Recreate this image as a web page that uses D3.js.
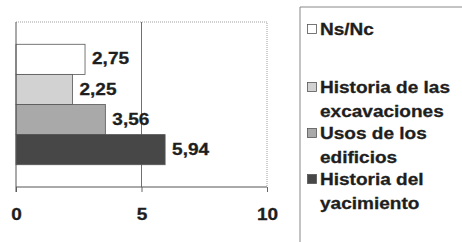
<!DOCTYPE html>
<html>
<head>
<meta charset="utf-8">
<script src="https://cdn.jsdelivr.net/npm/d3@7"></script>
<style>
  body { margin: 0; background: #fff; }
  text { font-family: "Liberation Sans", Arial, sans-serif; font-weight: bold; fill: #1e1e1e; stroke: #1e1e1e; stroke-width: 0.3px; }
</style>
</head>
<body>
<div id="chart"></div>
<script>
  var width = 462, height = 242;

  // data
  var categories = ["Ns/Nc", "Historia de las excavaciones", "Usos de los edificios", "Historia del yacimiento"];
  var values = [2.75, 2.25, 3.56, 5.94];
  var valueLabels = ["2,75", "2,25", "3,56", "5,94"];
  var legendLines = [["Ns/Nc"], ["Historia de las", "excavaciones"], ["Usos de los", "edificios"], ["Historia del", "yacimiento"]];
  var xTicks = [0, 5, 10];
  var colors = ["#ffffff", "#d2d2d2", "#a9a9a9", "#474747"];

  var plot = {left: 16, right: 267, top: 22, bottom: 187};
  var stretch = 1.12; // scanned text looks wide

  var svg = d3.select("#chart").append("svg")
    .attr("width", width)
    .attr("height", height);

  var x = d3.scaleLinear().domain([0, 10]).range([plot.left, plot.right]);
  var y = d3.scaleBand().domain(categories)
    .range([plot.top, plot.bottom])
    .paddingInner(0)
    .paddingOuter(0.74);

  // frame (top / right dotted-ish)
  svg.append("path")
    .attr("d", "M" + plot.left + "," + plot.top + "H" + plot.right + "V" + plot.bottom)
    .attr("fill", "none")
    .attr("stroke", "#a0a0a0")
    .attr("stroke-width", 1)
    .attr("stroke-dasharray", "1,1");

  // vertical grid at 5
  svg.append("line")
    .attr("x1", x(5)).attr("x2", x(5))
    .attr("y1", plot.top).attr("y2", plot.bottom)
    .attr("stroke", "#707070");

  // bars
  svg.selectAll("rect.bar").data(values).enter().append("rect")
    .attr("class", "bar")
    .attr("x", x(0))
    .attr("y", function(d, i) { return y(categories[i]); })
    .attr("width", function(d) { return x(d) - x(0); })
    .attr("height", y.bandwidth())
    .attr("fill", function(d, i) { return colors[i]; })
    .attr("stroke", "#555")
    .attr("stroke-width", 0.8);

  // value labels
  svg.selectAll("text.val").data(values).enter().append("text")
    .attr("class", "val")
    .attr("transform", function(d, i) {
      return "translate(" + (x(d) + 7) + "," + (y(categories[i]) + y.bandwidth() / 2 - 1) + ") scale(" + stretch + ",1)";
    })
    .attr("dy", "0.36em")
    .style("font-size", "17px")
    .text(function(d, i) { return valueLabels[i]; });

  // axes
  var xAxis = d3.axisBottom(x).tickValues(xTicks).tickSize(6).tickFormat(d3.format("d"));
  var gx = svg.append("g")
    .attr("transform", "translate(0," + plot.bottom + ")")
    .call(xAxis);
  gx.select(".domain").attr("stroke", "#555").attr("d", "M" + plot.left + ",0H" + plot.right);
  gx.selectAll(".tick line").attr("stroke", "#666").attr("y1", 0).attr("y2", 5);
  gx.selectAll(".tick text")
    .attr("y", 0).attr("dy", 0)
    .attr("transform", "translate(0,33) scale(" + stretch + ",1)")
    .attr("text-anchor", "middle")
    .style("font-size", "17px")
    .style("font-family", "Liberation Sans, Arial, sans-serif")
    .attr("fill", "#1e1e1e");

  svg.append("line")
    .attr("x1", plot.left).attr("x2", plot.left)
    .attr("y1", plot.top).attr("y2", plot.bottom + 5)
    .attr("stroke", "#555");

  // legend
  var legend = svg.append("g");
  legend.append("path")
    .attr("d", "M300," + height + "V7H" + width)
    .attr("fill", "none")
    .attr("stroke", "#888")
    .attr("stroke-width", 1);

  var entryY = [29, 87, 133, 179];
  var lineGap = 23.5;
  legendLines.forEach(function(lines, i) {
    legend.append("rect")
      .attr("x", 307.5).attr("y", entryY[i] - 4.5)
      .attr("width", 9).attr("height", 9)
      .attr("fill", colors[i])
      .attr("stroke", "#555")
      .attr("stroke-width", 0.8);
    lines.forEach(function(t, j) {
      legend.append("text")
        .attr("transform", "translate(320," + (entryY[i] + j * lineGap) + ") scale(" + stretch + ",1)")
        .attr("dy", "0.36em")
        .style("font-size", "17px")
        .text(t);
    });
  });
</script>
</body>
</html>
